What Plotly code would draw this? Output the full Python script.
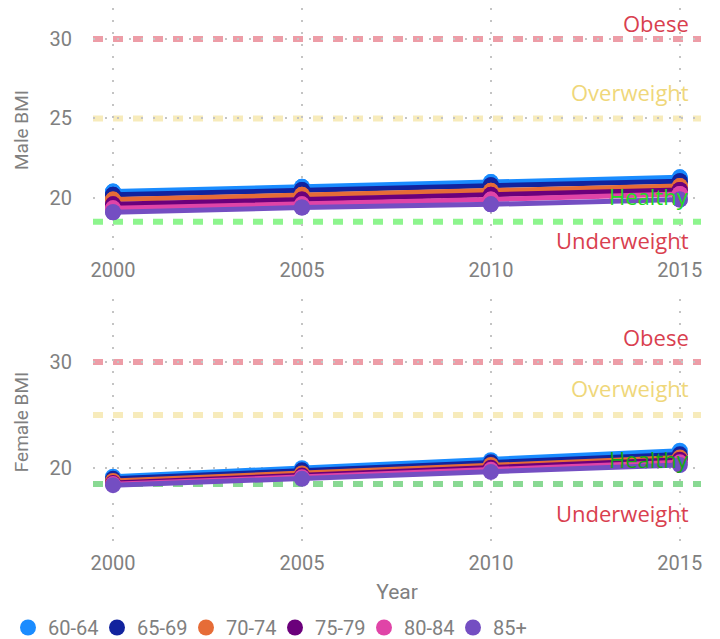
import plotly.graph_objects as go
from plotly.subplots import make_subplots

years = [2000, 2005, 2010, 2015]
age_groups = ['60-64', '65-69', '70-74', '75-79', '80-84', '85+']
colors = ['#1a8cff', '#12239e', '#e66c37', '#6b007b', '#e044a7', '#744ec2']

male_bmi = [
    [20.4, 20.7, 21.0, 21.3],
    [20.2, 20.5, 20.8, 21.05],
    [19.9, 20.2, 20.45, 20.75],
    [19.6, 19.9, 20.2, 20.5],
    [19.35, 19.6, 19.9, 20.25],
    [19.1, 19.4, 19.6, 19.9],
]
female_bmi = [
    [19.2, 20.0, 20.75, 21.65],
    [19.0, 19.8, 20.55, 21.3],
    [18.8, 19.5, 20.3, 21.0],
    [18.6, 19.3, 20.05, 20.8],
    [18.5, 19.15, 19.85, 20.55],
    [18.4, 19.0, 19.65, 20.3],
]

thresholds = [30, 25, 18.5]
threshold_labels = ['Obese', 'Overweight', 'Healthy', 'Underweight']

gray = '#808080'
fig = make_subplots(rows=2, cols=1)

for i, grp in enumerate(age_groups):
    for r, vals in [(1, male_bmi[i]), (2, female_bmi[i])]:
        fig.add_trace(go.Scatter(x=years, y=vals, mode='lines+markers', name=grp,
                                 line=dict(color=colors[i], width=5),
                                 marker=dict(color=colors[i], size=16),
                                 legendgroup=grp, showlegend=False), row=r, col=1)
    # legend entry (circle only)
    fig.add_trace(go.Scatter(x=years, y=male_bmi[i], mode='markers', name=grp,
                             marker=dict(color=colors[i], size=16),
                             legendgroup=grp, showlegend=True), row=1, col=1)

# threshold lines
line_cols = {
    1: ['rgba(220,60,80,0.5)', 'rgba(240,215,120,0.5)', 'rgba(30,235,30,0.5)'],
    2: ['rgba(220,60,80,0.5)', 'rgba(240,215,120,0.5)', 'rgba(20,180,40,0.5)'],
}
for r in [1, 2]:
    xr = 'x' if r == 1 else 'x2'
    yr = 'y' if r == 1 else 'y2'
    for t, c in zip(thresholds, line_cols[r]):
        fig.add_shape(type='line', xref=xr + ' domain', yref=yr, x0=0, x1=1, y0=t, y1=t,
                      line=dict(color=c, width=6, dash='10px,10px'), layer='below')

text_cols = {1: ['#d9404f', '#efd77a', '#22dd22', '#d9404f'],
             2: ['#d9404f', '#efd77a', '#14a614', '#d9404f']}
label_y = [30, 25, 18.5, 18.5]
shifts = {1: [16, 26, 26, -18], 2: [25, 27, 25, -29]}
for r in [1, 2]:
    xr = 'x' if r == 1 else 'x2'
    yr = 'y' if r == 1 else 'y2'
    for lab, yv, c, s in zip(threshold_labels, label_y, text_cols[r], shifts[r]):
        fig.add_annotation(text=lab, xref=xr + ' domain', yref=yr, x=0.982, y=yv,
                           xanchor='right', yanchor='middle', yshift=s, showarrow=False,
                           borderpad=0,
                           font=dict(family='Open Sans', size=22, color=c))

axis_common = dict(showgrid=True, gridcolor='#c4c4c4', gridwidth=2, griddash='2px,10px',
                   zeroline=False, showline=False, tickfont=dict(size=20, color=gray),
                   ticks='outside', tickcolor='rgba(0,0,0,0)', automargin=False)
fig.update_xaxes(**axis_common, range=[1999.47, 2015.56], tickvals=years, ticklen=0)
fig.update_yaxes(**axis_common, ticklen=16)

fig.update_layout(
    width=720, height=639,
    plot_bgcolor='white', paper_bgcolor='white',
    font=dict(family='Roboto', color=gray),
    margin=dict(l=85, r=27, t=0, b=102),
    showlegend=True,
    legend=dict(orientation='h', xref='container', yref='container',
                x=-0.006, xanchor='left', y=0.0, yanchor='bottom',
                font=dict(size=20, color=gray), itemwidth=30,
                entrywidth=44, entrywidthmode='pixels'),
    xaxis=dict(domain=[0, 1], anchor='y'),
    xaxis2=dict(domain=[0, 1], anchor='y2',
                title=dict(text='Year', font=dict(size=21, color=gray), standoff=10)),
    yaxis=dict(domain=[0.5456, 1], range=[16.6, 31.95], dtick=5,
               title=dict(text='Male BMI', font=dict(size=19, color=gray))),
    yaxis2=dict(domain=[0, 0.458], range=[12.77, 35.92], dtick=10,
                title=dict(text='Female BMI', font=dict(size=19, color=gray))),
)

fig.write_html('out.html')
